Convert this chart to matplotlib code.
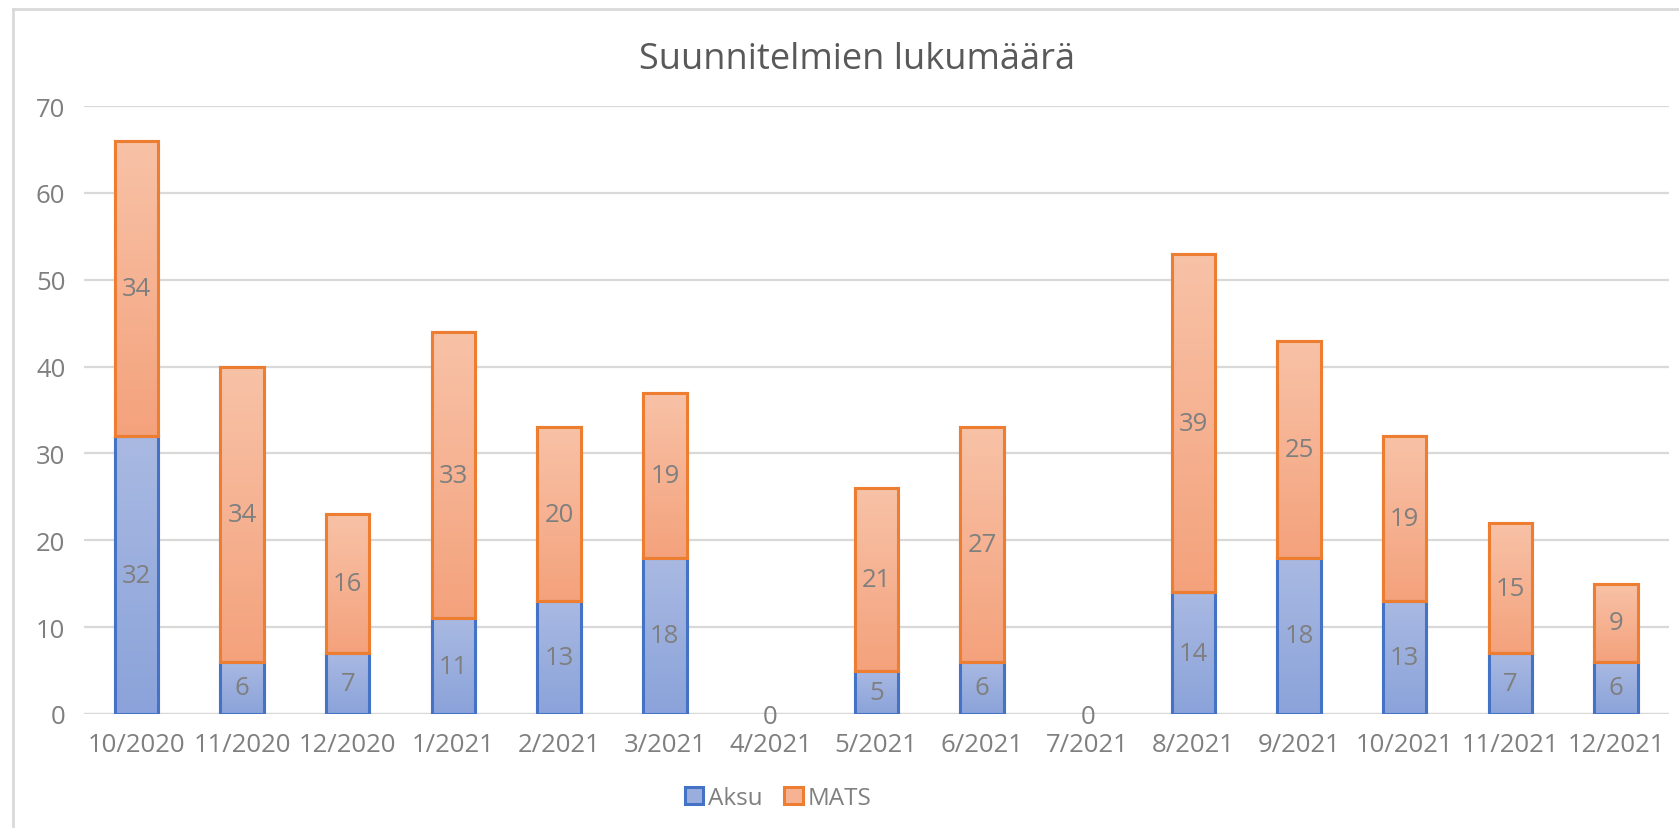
import matplotlib
matplotlib.use("Agg")
import matplotlib.pyplot as plt
import numpy as np
from matplotlib.patches import Rectangle
from matplotlib.colors import LinearSegmentedColormap

plt.rcParams['font.family'] = ['Open Sans', 'DejaVu Sans']

categories = ["10/2020", "11/2020", "12/2020", "1/2021", "2/2021", "3/2021", "4/2021",
              "5/2021", "6/2021", "7/2021", "8/2021", "9/2021", "10/2021", "11/2021", "12/2021"]
aksu = [32, 6, 7, 11, 13, 18, 0, 5, 6, 0, 14, 18, 13, 7, 6]
mats = [34, 34, 16, 33, 20, 19, 0, 21, 27, 0, 39, 25, 19, 15, 9]
yticks = [0, 10, 20, 30, 40, 50, 60, 70]
title = "Suunnitelmien lukumäärä"

W, H = 1679, 829
fig = plt.figure(figsize=(W / 100, H / 100), dpi=100)
ax = fig.add_axes([83.5 / W, 1 - 715 / H, (1669 - 83.5) / W, (715 - 107) / H])

grid_c = "#d9d9d9"
txt_c = "#7f7f7f"

x = np.arange(len(categories))
width = 0.41

blue_edge = "#4472c4"
orange_edge = "#ed7d31"
blue_cmap = LinearSegmentedColormap.from_list("b", ["#8ba3da", "#a9b9e2"])
orange_cmap = LinearSegmentedColormap.from_list("o", ["#f4a27c", "#f8c2a7"])

b1 = ax.bar(x, aksu, width, color="#9aaedd", edgecolor=blue_edge, linewidth=2.2,
            label="Aksu", zorder=3)
b2 = ax.bar(x, mats, width, bottom=aksu, color="#f6b393", edgecolor=orange_edge,
            linewidth=2.2, label="MATS", zorder=3)

grad = np.linspace(0, 1, 256).reshape(-1, 1)
for bars, cmap in ((b1, blue_cmap), (b2, orange_cmap)):
    for p in bars:
        h = p.get_height()
        if h <= 0:
            p.set_linewidth(0)
            continue
        x0, y0 = p.get_x(), p.get_y()
        im = ax.imshow(grad, cmap=cmap, origin="lower", aspect="auto",
                       extent=(x0, x0 + p.get_width(), y0, y0 + h), zorder=3.5)
        im.set_clip_path(p)
        ax.add_patch(Rectangle((x0, y0), p.get_width(), h, fill=False,
                               edgecolor=p.get_edgecolor(), linewidth=2.2, zorder=4))

# data labels
lab_fs = 18.5
for i in range(len(categories)):
    a, m = aksu[i], mats[i]
    if a == 0 and m == 0:
        ax.text(x[i], -0.3, "0", ha="center", va="center", fontsize=lab_fs, color=txt_c,
                zorder=5, clip_on=False)
        continue
    ax.text(x[i], a / 2, str(a), ha="center", va="center", fontsize=lab_fs, color=txt_c, zorder=5)
    ax.text(x[i], a + m / 2, str(m), ha="center", va="center", fontsize=lab_fs, color=txt_c, zorder=5)

ax.set_xlim(-0.5, len(categories) - 0.5)
ax.set_ylim(0, 70)
ax.set_yticks(yticks)
ax.set_xticks(x)
ax.set_xticklabels(categories)
ax.yaxis.grid(True, color=grid_c, linewidth=1.6, zorder=0)
ax.set_axisbelow(True)
for s in ax.spines.values():
    s.set_visible(False)
ax.tick_params(axis="both", length=0, labelsize=18.5, labelcolor=txt_c)
ax.tick_params(axis="x", pad=13)
ax.tick_params(axis="y", pad=13)
ax.axhline(0, color=grid_c, linewidth=1.6, zorder=2)

fig.text(857 / W, 1 - 60 / H, title, ha="center", va="center", fontsize=26, color="#595959")

leg = fig.legend(handles=[b1, b2], labels=["Aksu", "MATS"], loc="center",
                 bbox_to_anchor=(778 / W, 1 - 799 / H), ncol=2, frameon=False,
                 fontsize=17.5, handlelength=0.75, handleheight=0.75, handletextpad=0.2,
                 columnspacing=0.9, labelcolor=txt_c)

# chart frame
fig.add_artist(plt.Line2D([13 / W, 13 / W], [0, 1 - 10 / H], color=grid_c, linewidth=2,
                          transform=fig.transFigure))
fig.add_artist(plt.Line2D([13 / W, 1], [1 - 10 / H, 1 - 10 / H], color=grid_c, linewidth=2,
                          transform=fig.transFigure))

fig.savefig("out.png", dpi=100, facecolor="white")
